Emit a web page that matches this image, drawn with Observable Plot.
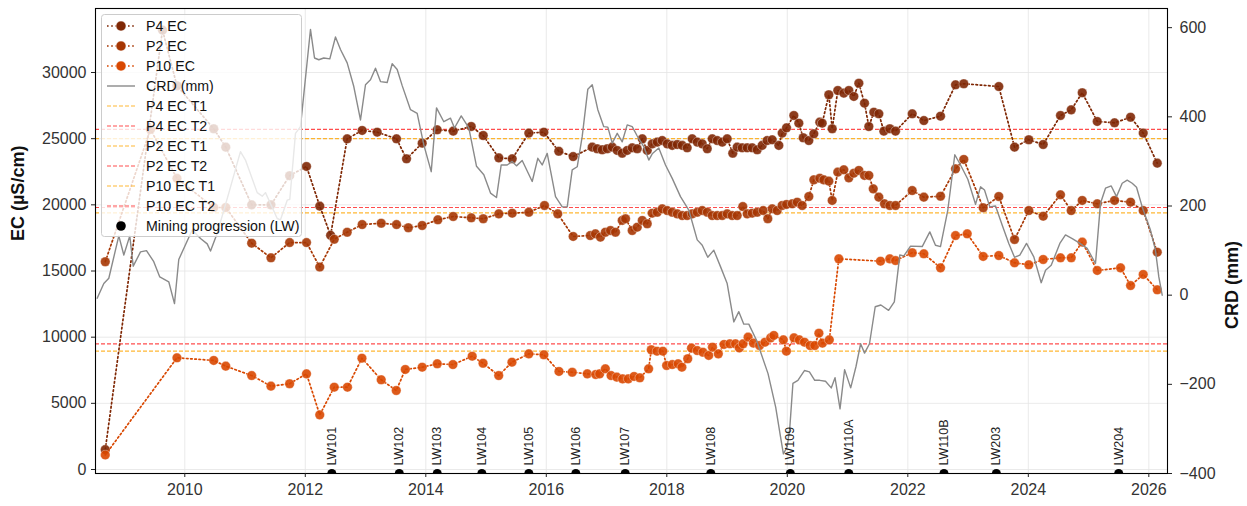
<!DOCTYPE html>
<html>
<head>
<meta charset="utf-8">
<script src="https://cdn.jsdelivr.net/npm/d3@7"></script>
<script src="https://cdn.jsdelivr.net/npm/@observablehq/plot@0.6"></script>
<style>
  body { margin: 0; background: #fff; }
  #chart svg { display: block; }
</style>
</head>
<body>
<div id="chart"></div>
<script>
// ---- Tick values ----------------------------------------------------------
const years = [2010, 2012, 2014, 2016, 2018, 2020, 2022, 2024, 2026];
const ecTicks = [0, 5000, 10000, 15000, 20000, 25000, 30000];
const crdTicks = [-400, -200, 0, 200, 400, 600];

// ---- Piezometer electrical conductivity, [decimal year, EC µS/cm] ---------
const p4EC = [
  [2008.68,1500],[2009.63,33200],[2009.87,29000],[2010.48,25750],[2010.68,24360],
  [2011.11,20000],[2011.43,20000],[2011.74,22200],[2012.02,22900],[2012.24,19900],
  [2012.42,17700],[2012.695,24990],[2012.944,25620],[2013.193,25490],[2013.514,24990],
  [2013.68,23480],[2013.94,24660],[2014.189,25670],[2014.455,25570],[2014.754,25920],
  [2014.953,25240],[2015.212,23550],[2015.434,23480],[2015.71,25420],[2015.959,25490],
  [2016.207,24050],[2016.446,23650],[2016.762,24360],[2016.845,24240],[2016.928,24160],
  [2017.011,24240],[2017.094,24360],[2017.177,24110],[2017.26,23900],[2017.343,24110],
  [2017.426,24310],[2017.509,24240],[2017.593,24990],[2017.675,24110],[2017.758,24610],
  [2017.841,24740],[2017.924,24860],[2018.007,24610],[2018.09,24490],[2018.173,24560],
  [2018.256,24490],[2018.338,24310],[2018.421,24990],[2018.505,24740],[2018.588,24610],
  [2018.671,24240],[2018.754,24990],[2018.837,24860],[2018.92,24740],[2019.002,24990],
  [2019.095,23900],[2019.168,24360],[2019.251,24310],[2019.334,24310],[2019.417,24310],
  [2019.5,24160],[2019.583,24490],[2019.666,24860],[2019.749,24915],[2019.859,24490],
  [2019.915,25420],[2019.987,25820],[2020.108,26750],[2020.191,26170],[2020.264,25070],
  [2020.357,24860],[2020.44,25370],[2020.539,26250],[2020.579,26170],[2020.689,28320],
  [2020.745,25750],[2020.838,28640],[2020.938,28440],[2021.021,28640],[2021.104,28190],
  [2021.187,29190],[2021.281,27680],[2021.353,25920],[2021.436,27000],[2021.519,26880],
  [2021.602,25570],[2021.701,25750],[2021.796,25570],[2022.073,26880],[2022.266,26370],
  [2022.543,26700],[2022.792,29070],[2022.929,29150],[2023.51,28940],[2023.771,24360],
  [2024.008,24920],[2024.247,24560],[2024.534,26750],[2024.712,27180],[2024.895,28470],
  [2025.144,26300],[2025.431,26200],[2025.697,26620],[2025.907,25420],[2026.14,23150]
];

const p2EC = [
  [2008.68,15700],[2009.43,25700],[2009.87,22000],[2010.48,19800],[2010.68,19800],
  [2011.11,17100],[2011.43,16000],[2011.74,17150],[2012.02,17150],[2012.24,15300],
  [2012.48,17400],[2012.695,17930],[2012.944,18510],[2013.26,18610],[2013.514,18510],
  [2013.71,18270],[2013.94,18440],[2014.2,18870],[2014.455,19120],[2014.754,19020],
  [2014.953,18950],[2015.212,19320],[2015.434,19370],[2015.71,19440],[2015.97,19950],
  [2016.19,19320],[2016.446,17610],[2016.73,17680],[2016.815,17810],[2016.898,17560],
  [2016.98,17930],[2017.065,18060],[2017.148,17930],[2017.26,18820],[2017.315,18950],
  [2017.426,18060],[2017.509,18310],[2017.593,18820],[2017.675,18570],[2017.758,19370],
  [2017.841,19440],[2017.924,19700],[2018.007,19570],[2018.09,19440],[2018.173,19320],
  [2018.256,19190],[2018.338,19190],[2018.421,19320],[2018.505,19440],[2018.588,19570],
  [2018.671,19440],[2018.754,19190],[2018.837,19190],[2018.92,19190],[2019.002,19320],
  [2019.085,19190],[2019.168,19190],[2019.261,19870],[2019.334,19320],[2019.417,19370],
  [2019.5,19440],[2019.6,19570],[2019.676,18950],[2019.749,19700],[2019.832,19570],
  [2019.915,19950],[2019.987,20030],[2020.081,20080],[2020.164,20200],[2020.247,19950],
  [2020.357,20630],[2020.44,21890],[2020.539,22010],[2020.606,21890],[2020.689,21790],
  [2020.745,20330],[2020.838,22470],[2020.938,22650],[2021.021,22040],[2021.104,22390],
  [2021.187,22600],[2021.281,22220],[2021.353,22220],[2021.426,21210],[2021.519,20580],
  [2021.613,20080],[2021.701,19950],[2021.796,19950],[2022.073,21080],[2022.266,20580],
  [2022.543,20650],[2022.792,22720],[2022.929,23430],[2023.251,19780],[2023.51,20630],
  [2023.771,17380],[2024.008,19570],[2024.247,19140],[2024.534,20760],[2024.712,19570],
  [2024.895,20330],[2025.144,20080],[2025.431,20330],[2025.697,20200],[2025.907,19570],
  [2026.14,16420]
];

const p10EC = [
  [2008.68,1100],[2009.87,8440],[2010.48,8240],[2010.68,7810],[2011.11,7100],
  [2011.43,6300],[2011.74,6480],[2012.02,7230],[2012.24,4130],[2012.48,6220],
  [2012.7,6220],[2012.94,8410],[2013.26,6780],[2013.51,5970],[2013.66,7560],
  [2013.94,7730],[2014.19,7990],[2014.45,7930],[2014.77,8560],[2014.95,8030],
  [2015.21,7100],[2015.43,8110],[2015.71,8740],[2015.96,8670],[2016.21,7410],
  [2016.43,7350],[2016.68,7230],[2016.82,7180],[2016.885,7230],[2016.98,7610],
  [2017.075,7100],[2017.17,6980],[2017.266,6850],[2017.36,6850],[2017.457,7030],
  [2017.552,6930],[2017.698,7610],[2017.743,9050],[2017.837,8940],[2017.934,8940],
  [2017.997,7860],[2018.091,7930],[2018.188,7990],[2018.25,7730],[2018.347,8370],
  [2018.41,9170],[2018.505,8990],[2018.6,8860],[2018.695,8620],[2018.758,9240],
  [2018.855,8740],[2018.95,9450],[2019.046,9500],[2019.14,9500],[2019.203,9190],
  [2019.266,9500],[2019.349,10000],[2019.437,9550],[2019.539,9370],[2019.63,9620],
  [2019.724,9950],[2019.776,10130],[2019.934,9800],[2019.985,8940],[2020.111,9950],
  [2020.199,9800],[2020.284,9620],[2020.378,9370],[2020.455,9370],[2020.524,10300],
  [2020.583,9550],[2020.697,9800],[2020.855,15920],[2021.547,15740],[2021.701,15920],
  [2021.796,15790],[2022.073,16380],[2022.266,16300],[2022.543,15240],[2022.792,17680],
  [2022.986,17810],[2023.251,16100],[2023.51,16170],[2023.771,15620],[2024.008,15470],
  [2024.247,15870],[2024.534,16000],[2024.712,16000],[2024.895,17180],[2025.144,15040],
  [2025.531,15240],[2025.697,13900],[2025.907,14740],[2026.14,13580]
];

// ---- Cumulative rainfall deviation, [decimal year, mm] --------------------
const crdSeries = [
  [2008.546,-7],[2008.656,26],[2008.739,38],[2008.905,133],[2008.988,90],[2009.087,133],
  [2009.144,65],[2009.265,97],[2009.364,100],[2009.485,75],[2009.585,41],[2009.734,30],
  [2009.829,-19],[2009.9,80],[2010.123,146],[2010.261,127],[2010.372,115],[2010.427,99],
  [2010.538,139],[2010.73,229],[2010.924,322],[2011.007,303],[2011.202,230],[2011.285,222],
  [2011.339,230],[2011.534,172],[2011.588,169],[2011.7,213],[2011.743,215],[2011.837,363],
  [2011.92,378],[2012.086,596],[2012.153,532],[2012.224,528],[2012.307,532],[2012.407,530],
  [2012.501,579],[2012.584,551],[2012.695,521],[2012.805,468],[2012.916,393],[2012.999,472],
  [2013.082,483],[2013.165,509],[2013.248,479],[2013.359,477],[2013.442,519],[2013.525,506],
  [2013.608,470],[2013.746,416],[2013.857,408],[2013.967,337],[2014.09,277],[2014.178,420],
  [2014.299,389],[2014.41,397],[2014.476,375],[2014.588,402],[2014.714,375],[2014.842,289],
  [2014.963,270],[2015.074,229],[2015.173,219],[2015.251,292],[2015.351,292],[2015.434,300],
  [2015.505,290],[2015.6,302],[2015.766,255],[2015.859,307],[2015.932,292],[2016.015,318],
  [2016.153,221],[2016.264,198],[2016.347,198],[2016.43,281],[2016.513,288],[2016.596,356],
  [2016.689,462],[2016.762,472],[2016.855,416],[2016.954,378],[2017.021,377],[2017.094,341],
  [2017.177,363],[2017.26,344],[2017.343,382],[2017.426,378],[2017.509,357],[2017.618,333],
  [2017.701,303],[2017.758,317],[2017.867,330],[2017.978,292],[2018.09,262],[2018.227,221],
  [2018.365,191],[2018.505,124],[2018.588,112],[2018.68,85],[2018.78,101],[2018.891,64],
  [2019.002,26],[2019.112,-60],[2019.195,-37],[2019.278,-65],[2019.361,-65],[2019.489,-101],
  [2019.68,-176],[2019.807,-251],[2019.884,-315],[2019.935,-356],[2019.998,-340],[2020.04,-300],
  [2020.093,-198],[2020.176,-191],[2020.284,-169],[2020.367,-172],[2020.455,-191],[2020.538,-191],
  [2020.634,-193],[2020.729,-208],[2020.792,-185],[2020.875,-255],[2020.951,-167],[2021.052,-208],
  [2021.14,-160],[2021.217,-109],[2021.282,-130],[2021.364,-109],[2021.459,-26],[2021.553,-22],
  [2021.681,-34],[2021.776,-15],[2021.867,90],[2021.934,88],[2022.045,110],[2022.239,109],
  [2022.365,142],[2022.459,112],[2022.542,109],[2022.664,191],[2022.78,315],[2022.875,292],
  [2022.996,260],[2023.124,204],[2023.207,243],[2023.273,236],[2023.361,198],[2023.456,200],
  [2023.567,157],[2023.676,116],[2023.771,85],[2023.859,90],[2023.97,116],[2024.091,86],
  [2024.214,28],[2024.286,56],[2024.38,67],[2024.523,116],[2024.617,135],[2024.729,127],
  [2024.838,118],[2024.977,105],[2025.115,71],[2025.198,206],[2025.281,240],[2025.376,245],
  [2025.464,221],[2025.558,251],[2025.641,258],[2025.724,251],[2025.796,242],[2025.89,198],
  [2026.027,146],[2026.11,101],[2026.166,41],[2026.222,0]
];

// ---- Trigger levels (µS/cm) -----------------------------------------------
const thresholdNames = ["P4 EC T1", "P4 EC T2", "P2 EC T1", "P2 EC T2", "P10 EC T1", "P10 EC T2"];
const thresholdValues = [25000, 25700, 19400, 19800, 8950, 9500];

// ---- Longwall mining progression -----------------------------------------
const lwNames = ["LW101","LW102","LW103","LW104","LW105","LW106","LW107","LW108","LW109","LW110A","LW110B","LW203","LW204"];
const lwDates = [2012.44, 2013.56, 2014.19, 2014.93, 2015.71, 2016.49, 2017.31, 2018.73, 2020.05, 2021.02, 2022.60, 2023.47, 2025.50];

// ---- Scales ---------------------------------------------------------------
const xDomain = [2008.518, 2026.31];
const ecDomain = [-302, 34837];
const crdDomain = [-400, 643];
// The CRD axis on the right shares the frame with EC: map mm onto the EC scale.
const crdToEC = c => ecDomain[0] + (c - crdDomain[0]) * (ecDomain[1] - ecDomain[0]) / (crdDomain[1] - crdDomain[0]);
const ecToCRD = v => crdDomain[0] + (v - ecDomain[0]) * (crdDomain[1] - crdDomain[0]) / (ecDomain[1] - ecDomain[0]);

const colors = {P4: "#7f2704", P2: "#a63603", P10: "#d94801", crd: "#8a8a8a", t1: "#ffa500", t2: "#ff2020"};
const toRows = pairs => pairs.map(([t, v]) => ({t, v}));
const series = [
  {name: "P4 EC", color: colors.P4, rows: toRows(p4EC)},
  {name: "P2 EC", color: colors.P2, rows: toRows(p2EC)},
  {name: "P10 EC", color: colors.P10, rows: toRows(p10EC)}
];
const crdRows = crdSeries.map(([t, c]) => ({t, c}));
const thresholds = thresholdNames.map((name, i) => ({name, value: thresholdValues[i], level: name.slice(-2)}));
const lw = lwNames.map((name, i) => ({name, t: lwDates[i]}));

const fmt = d3.format("d");
const font = "'Liberation Sans', Arial, Helvetica, sans-serif";

const seriesMarks = series.flatMap(s => [
  Plot.line(s.rows, {x: "t", y: "v", stroke: s.color, strokeWidth: 1.7, strokeDasharray: "1.6,2.6"}),
  Plot.dot(s.rows, {x: "t", y: "v", r: 4.8, fill: s.color, fillOpacity: 0.9, stroke: "white", strokeWidth: 0.5, strokeOpacity: 0.7})
]);

const svg = Plot.plot({
  width: 1247,
  height: 506,
  marginLeft: 95,
  marginRight: 80,
  marginTop: 8,
  marginBottom: 33,
  style: {fontFamily: font, fontSize: "16px", background: "white", color: "#333"},
  x: {type: "linear", domain: xDomain},
  y: {type: "linear", domain: ecDomain},
  marks: [
    Plot.gridX(years, {stroke: "#e4e4e4", strokeOpacity: 1, strokeWidth: 0.8}),
    Plot.gridY(ecTicks, {stroke: "#e4e4e4", strokeOpacity: 1, strokeWidth: 0.8}),
    Plot.ruleY(thresholds, {
      y: "value",
      stroke: d => d.level === "T1" ? colors.t1 : colors.t2,
      strokeOpacity: 0.8,
      strokeWidth: 1.2,
      strokeDasharray: "4,2"
    }),
    ...seriesMarks,
    Plot.line(crdRows, {x: "t", y: d => crdToEC(d.c), stroke: colors.crd, strokeWidth: 1.4}),
    Plot.dot(lw, {x: "t", y: () => ecDomain[0], r: 4.5, fill: "black", clip: true}),
    Plot.text(lw, {
      x: "t", y: () => ecDomain[0], text: "name", rotate: -90, textAnchor: "start",
      dy: -8, fontSize: 12.5, fill: "#222"
    }),
    Plot.frame({stroke: "black", strokeWidth: 1.1}),
    Plot.axisX(years, {tickFormat: fmt, label: null, tickSize: 4, tickPadding: 6, fontSize: 16, stroke: "#222"}),
    Plot.axisY(ecTicks, {anchor: "left", tickFormat: fmt, label: null, tickSize: 4, tickPadding: 5, fontSize: 16, stroke: "#222"}),
    Plot.axisY(crdTicks.map(crdToEC), {
      anchor: "right", tickFormat: v => fmt(Math.round(ecToCRD(v))), label: null,
      tickSize: 4, tickPadding: 8, fontSize: 16, stroke: "#222"
    }),
    Plot.text(["EC (µS/cm)"], {text: d => d, frameAnchor: "left", dx: -77, rotate: -90, fontWeight: "bold", fontSize: 18, fill: "#111"}),
    Plot.text(["CRD (mm)"], {text: d => d, frameAnchor: "right", dx: 65, rotate: -90, fontWeight: "bold", fontSize: 18, fill: "#111"})
  ]
});

// ---- Legend (upper left, inside the frame) --------------------------------
const legendItems = [
  ...series.map(s => ({label: s.name, kind: "series", color: s.color})),
  {label: "CRD (mm)", kind: "solid", color: colors.crd},
  ...thresholds.map(t => ({label: t.name, kind: "dashed", color: t.level === "T1" ? colors.t1 : colors.t2})),
  {label: "Mining progression (LW)", kind: "marker", color: "black"}
];

const legend = d3.select(svg).append("g")
  .attr("transform", "translate(101.5,14.5)")
  .attr("font-family", font)
  .attr("font-size", 14.2)
  .attr("text-anchor", "start");

legend.append("rect")
  .attr("width", 200).attr("height", 222).attr("rx", 3)
  .attr("fill", "white").attr("fill-opacity", 0.8)
  .attr("stroke", "#cccccc").attr("stroke-width", 1);

legendItems.forEach((item, i) => {
  const g = legend.append("g").attr("transform", `translate(0,${11.5 + i * 20})`);
  if (item.kind !== "marker") {
    const line = g.append("line").attr("x1", 5.5).attr("x2", 33.5)
      .attr("stroke", item.color);
    if (item.kind === "series") line.attr("stroke-width", 1.7).attr("stroke-dasharray", "1.6,2.6");
    if (item.kind === "solid") line.attr("stroke-width", 1.4);
    if (item.kind === "dashed") line.attr("stroke-width", 1.2).attr("stroke-dasharray", "4,2").attr("stroke-opacity", 0.8);
  }
  if (item.kind === "series" || item.kind === "marker") {
    g.append("circle").attr("cx", 19.5).attr("r", item.kind === "marker" ? 4.8 : 5)
      .attr("fill", item.color).attr("stroke", item.kind === "series" ? "white" : "none")
      .attr("stroke-width", 0.5);
  }
  g.append("text").attr("x", 44.5).attr("dy", "0.35em")
    .attr("text-anchor", "start").attr("fill", "#111").text(item.label);
});

document.getElementById("chart").appendChild(svg);
</script>
</body>
</html>
